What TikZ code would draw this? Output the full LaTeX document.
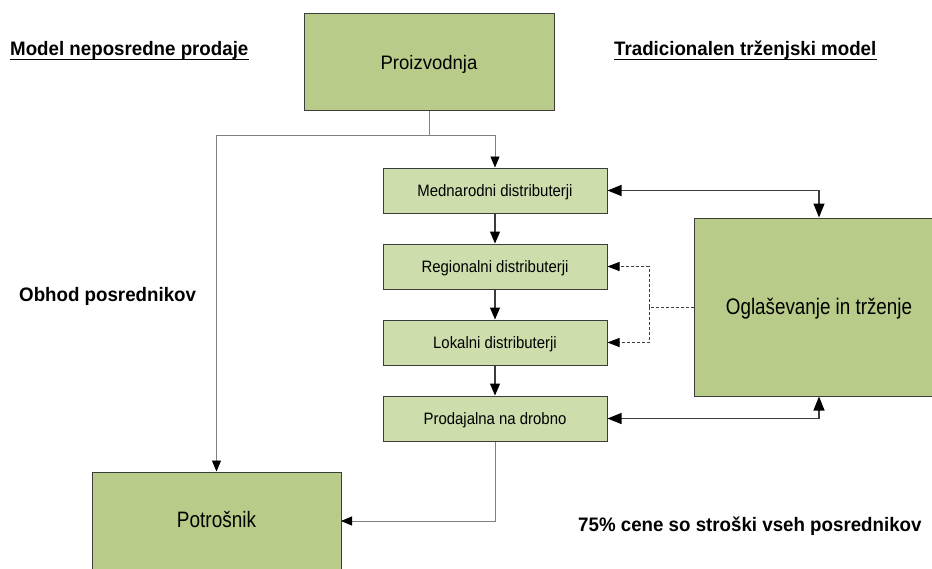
\documentclass[tikz,border=0pt]{standalone}
\usepackage{fontspec}
\setmainfont{Liberation Sans}
\usepackage{graphicx}
\usetikzlibrary{arrows.meta}
\definecolor{bigfill}{RGB}{184,203,137}
\definecolor{smallfill}{RGB}{205,221,172}
\definecolor{edgec}{RGB}{60,60,60}
\definecolor{thinln}{RGB}{128,128,128}
\newcommand\hsc[2]{\scalebox{#1}[1]{#2}}
\begin{document}
\begin{tikzpicture}[x=1pt,y=-1pt,
  bigbox/.style={draw=edgec,line width=1pt,fill=bigfill,inner sep=0pt,text depth=0pt},
  smallbox/.style={draw=edgec,line width=1pt,fill=smallfill,minimum width=224pt,minimum height=45pt,inner sep=0pt,text height=12.4pt,text depth=0pt,font=\fontsize{16.5}{18}\selectfont},
  title/.style={inner sep=0pt,anchor=base west,font=\fontsize{19.5}{22}\selectfont\bfseries},
  flow/.style={draw=edgec,line width=1.1pt,-{Triangle[length=12pt,width=10pt,color=black]}},
  thinflow/.style={draw=thinln,line width=0.9pt,-{Triangle[length=11pt,width=9pt,color=black]}},
  dbl/.style={draw=edgec,line width=1.2pt,{Triangle[length=14pt,width=11pt,color=black]}-{Triangle[length=14pt,width=11pt,color=black]}},
  dsh/.style={draw=edgec,line width=1pt,dash pattern=on 3pt off 2pt,-{Triangle[length=12pt,width=9pt,color=black]}},
  uline/.style={line width=1.5pt}]
\useasboundingbox[fill=white] (0,0) rectangle (932,568);
% boxes
\node[bigbox,minimum width=250pt,minimum height=97pt,text height=15pt,font=\fontsize{19.5}{22}\selectfont] (proiz) at (429,61.5) {\hsc{0.95}{Proizvodnja}};
\node[smallbox] (medn) at (495,190.5) {\hsc{0.905}{Mednarodni distributerji}};
\node[smallbox] (regio) at (495,266.5) {\hsc{0.905}{Regionalni distributerji}};
\node[smallbox] (lokal) at (495,342.5) {\hsc{0.905}{Lokalni distributerji}};
\node[smallbox] (prod) at (495,418.5) {\hsc{0.905}{Prodajalna na drobno}};
\node[bigbox,minimum width=250pt,minimum height=178pt,text height=14pt,font=\fontsize{22.5}{25}\selectfont] (oglas) at (819,307) {\hsc{0.836}{Oglaševanje in trženje}};
\node[bigbox,minimum width=249pt,minimum height=108pt,text height=3.4pt,font=\fontsize{22.3}{25}\selectfont] (potr) at (216.5,526) {\hsc{0.85}{Potrošnik}};
% titles
\node[title] (t1) at (10,55) {\hsc{0.96}{Model neposredne prodaje}};
\node[title] (t2) at (614,55) {\hsc{0.96}{Tradicionalen trženjski model}};
\node[title] (t3) at (19,301) {\hsc{0.96}{Obhod posrednikov}};
\node[title] (t4) at (578,531) {\hsc{0.96}{75\% cene so stroški vseh posrednikov}};
\draw[uline] ([yshift=-4.5pt]t1.base west) -- ([yshift=-4.5pt]t1.base east);
\draw[uline] ([yshift=-4.5pt]t2.base west) -- ([yshift=-4.5pt]t2.base east);
% connectors
\coordinate (j) at (429,135);
\coordinate (pe) at (341,521);
\draw[thinflow] (proiz.south) -- (j) -| (medn.north);
\draw[thinflow] (j) -| (potr.north);
\draw[flow] (medn.south) -- (regio.north);
\draw[flow] (regio.south) -- (lokal.north);
\draw[flow] (lokal.south) -- (prod.north);
\draw[thinflow] (prod.south) |- (pe);
\draw[dbl] (medn.east) -| (oglas.north);
\draw[dbl] (prod.east) -| (oglas.south);
\coordinate (d) at (649,307);
\draw[dsh] (oglas.west) -- (d) |- (regio.east);
\draw[dsh] (d) |- (lokal.east);
\end{tikzpicture}
\end{document}
